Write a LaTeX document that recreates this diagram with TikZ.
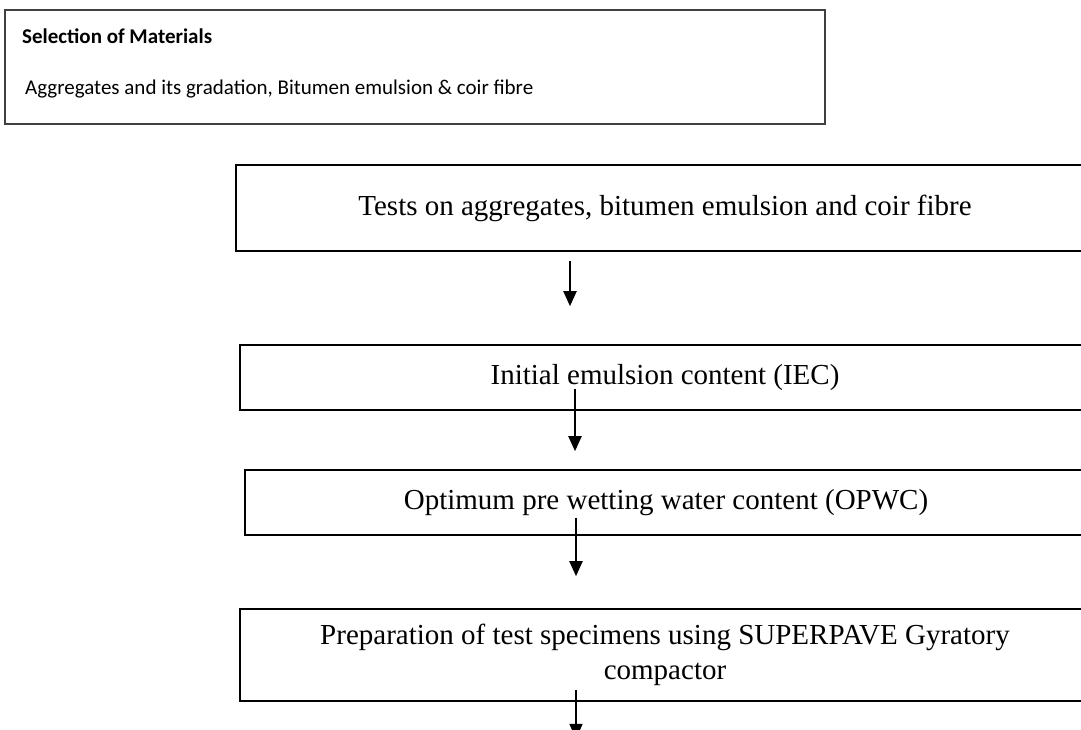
\documentclass[tikz,border=0pt]{standalone}
\usepackage{fontspec}
\setmainfont{Liberation Serif}
\newfontfamily\calibrifont{Carlito}
\usetikzlibrary{arrows.meta,positioning}
\tikzset{
  mtbox/.style={
    rectangle, draw=black, line width=1.6pt, inner sep=0pt,
    font=\fontsize{29}{35}\selectfont, align=center
  },
  mtboxthick/.style={mtbox,line width=2.8pt},
  mtselbox/.style={rectangle,draw=black!75,line width=1.5pt,inner sep=0pt},
  mtseltitle/.style={font=\calibrifont\bfseries\fontsize{21}{25}\selectfont,anchor=west,inner sep=0pt},
  mtseltext/.style={font=\calibrifont\fontsize{21}{25}\selectfont,anchor=west,inner sep=0pt},
  mtarrow/.style={-{Triangle[width=13pt,length=15pt]},line width=2pt}
}

\begin{document}
\begin{tikzpicture}[x=1pt,y=-1pt]
  \useasboundingbox (0,0) rectangle (1081,729);
  % selection of materials
  \node[mtselbox,minimum width=820pt,minimum height=114pt] (sel) at (415,67) {};
  \node[mtseltitle] (seltitle) at (22,36) {Selection of Materials};
  \node[mtseltext] (seltext) at (25,89) {Aggregates and its gradation, Bitumen emulsion \& coir fibre};
  % flow boxes
  \node[mtboxthick,minimum width=858pt,minimum height=86pt] (tests) at (665,208)
    {Tests on aggregates, bitumen emulsion and coir fibre};
  \node[mtbox,minimum width=850pt,minimum height=65pt] (iec) at (665,377.5)
    {Initial emulsion content (IEC)};
  \node[mtbox,minimum width=842pt,minimum height=65pt] (opwc) at (666,502.5)
    {Optimum pre wetting water content (OPWC)};
  \node[mtbox,minimum width=850pt,minimum height=92pt] (prep) at (665,655)
    {Preparation of test specimens using SUPERPAVE Gyratory\\compactor};
  % arrows
  \draw[mtarrow] ([xshift=-95pt,yshift=-9pt]tests.south) -- ([xshift=-95pt,yshift=38pt]iec.north);
  \draw[mtarrow] ([xshift=-90pt,yshift=22pt]iec.south) -- ([xshift=-91pt,yshift=18pt]opwc.north);
  \draw[mtarrow] ([xshift=-90pt,yshift=18pt]opwc.south) -- ([xshift=-89pt,yshift=32pt]prep.north);
  \draw[mtarrow] ([xshift=-89pt,yshift=12pt]prep.south) -- ([xshift=-89pt,yshift=-37pt]prep.south);
\end{tikzpicture}
\end{document}
